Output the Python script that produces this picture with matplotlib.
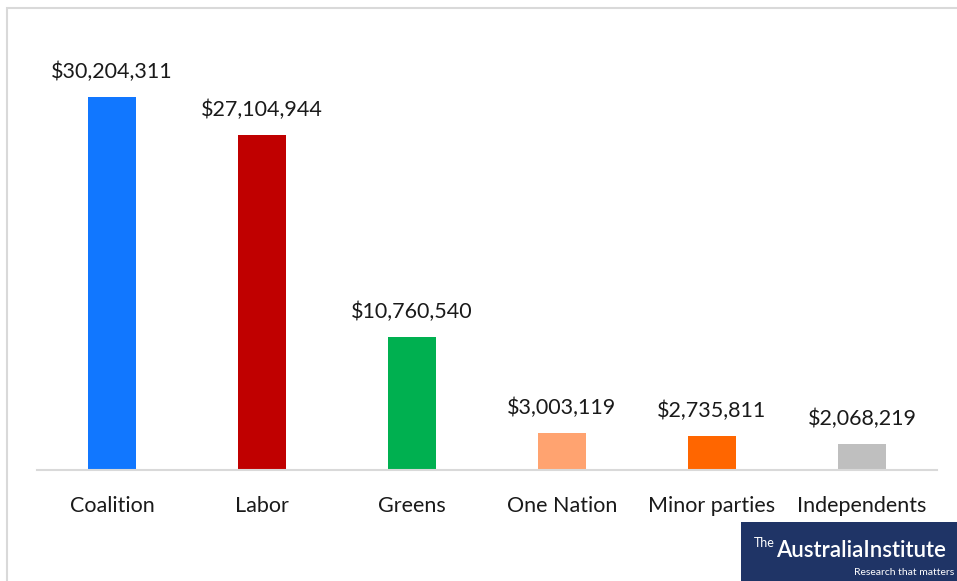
import matplotlib
matplotlib.use('Agg')
import matplotlib.pyplot as plt
from matplotlib.patches import Rectangle

plt.rcParams['font.family'] = ['Lato', 'DejaVu Sans']

# data
parties = ['Coalition', 'Labor', 'Greens', 'One Nation', 'Minor parties', 'Independents']
spend = [30204311, 27104944, 10760540, 3003119, 2735811, 2068219]
colours = ['#1177FF', '#C00000', '#00B050', '#FFA370', '#FF6600', '#BFBFBF']

fig = plt.figure(figsize=(9.57, 5.81), dpi=100)

# light grey chart frame (runs off the right and bottom edges)
fig.patches.append(Rectangle((7 / 957, -0.05), 1.0, 1.05 - 8 / 581, transform=fig.transFigure,
                             fill=False, edgecolor='#D9D9D9', linewidth=1.5, zorder=0))

ax = fig.add_axes([37 / 957, (581 - 470) / 581, 900 / 957, 432 / 581])
x = range(len(parties))
ax.bar(x, spend, width=0.32, color=colours, zorder=2)

for xi, v in zip(x, spend):
    ax.annotate(f'${v:,}', (xi, v), xytext=(0, 11), textcoords='offset points',
                ha='center', va='bottom', fontsize=15.5, color='#1a1a1a')

ax.set_xlim(-0.5, len(parties) - 0.5)
ax.set_ylim(0, 35000000)
ax.set_xticks(list(x))
ax.set_xticklabels(parties, fontsize=15.5, color='#1a1a1a')
ax.tick_params(axis='x', length=0, pad=19)
ax.set_yticks([])
for s in ['top', 'right', 'left']:
    ax.spines[s].set_visible(False)
ax.spines['bottom'].set_color('#D9D9D9')
ax.spines['bottom'].set_linewidth(1.5)

# logo box
fig.patches.append(Rectangle((741 / 957, 0), 216 / 957, 59 / 581, transform=fig.transFigure,
                             facecolor='#1F3466', edgecolor='none', zorder=5))
fig.text(754 / 957, 32 / 581, 'The', color='white', fontsize=9, ha='left', va='bottom', zorder=6)
fig.text(776 / 957, 20 / 581, 'AustraliaInstitute', color='white', fontsize=16,
         fontweight='semibold', ha='left', va='bottom', zorder=6)
fig.text(954 / 957, 4 / 581, 'Research that matters', color='white', fontsize=7.5,
         ha='right', va='bottom', zorder=6)

fig.savefig('out.png', dpi=100)
